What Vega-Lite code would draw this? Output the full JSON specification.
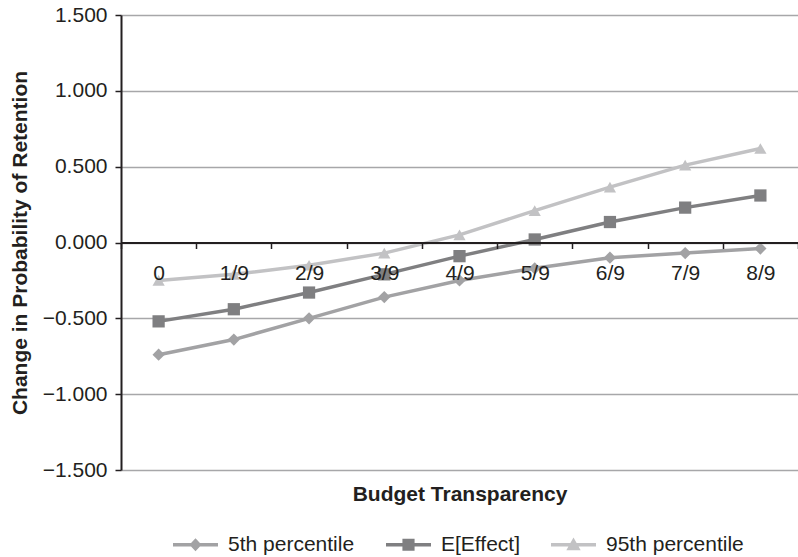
{
  "$schema": "https://vega.github.io/schema/vega-lite/v6.json",
  "width": 677,
  "height": 455,
  "autosize": "none",
  "padding": {"left": 121, "top": 15, "right": 0, "bottom": 87},
  "background": "white",
  "config": {
    "view": {"stroke": null},
    "font": "Liberation Sans",
    "axis": {"labelFont": "Liberation Sans", "titleFont": "Liberation Sans", "labelColor": "#231f20", "titleColor": "#231f20"},
    "legend": {"labelFont": "Liberation Sans"}
  },
  "data": {
    "values": [
      {"x": "0", "series": "5th percentile", "value": -0.74},
      {"x": "1/9", "series": "5th percentile", "value": -0.64},
      {"x": "2/9", "series": "5th percentile", "value": -0.50},
      {"x": "3/9", "series": "5th percentile", "value": -0.36},
      {"x": "4/9", "series": "5th percentile", "value": -0.25},
      {"x": "5/9", "series": "5th percentile", "value": -0.17},
      {"x": "6/9", "series": "5th percentile", "value": -0.10},
      {"x": "7/9", "series": "5th percentile", "value": -0.07},
      {"x": "8/9", "series": "5th percentile", "value": -0.04},
      {"x": "0", "series": "E[Effect]", "value": -0.52},
      {"x": "1/9", "series": "E[Effect]", "value": -0.44},
      {"x": "2/9", "series": "E[Effect]", "value": -0.33},
      {"x": "3/9", "series": "E[Effect]", "value": -0.21},
      {"x": "4/9", "series": "E[Effect]", "value": -0.09},
      {"x": "5/9", "series": "E[Effect]", "value": 0.02},
      {"x": "6/9", "series": "E[Effect]", "value": 0.135},
      {"x": "7/9", "series": "E[Effect]", "value": 0.23},
      {"x": "8/9", "series": "E[Effect]", "value": 0.31},
      {"x": "0", "series": "95th percentile", "value": -0.25},
      {"x": "1/9", "series": "95th percentile", "value": -0.21},
      {"x": "2/9", "series": "95th percentile", "value": -0.15},
      {"x": "3/9", "series": "95th percentile", "value": -0.07},
      {"x": "4/9", "series": "95th percentile", "value": 0.05},
      {"x": "5/9", "series": "95th percentile", "value": 0.21},
      {"x": "6/9", "series": "95th percentile", "value": 0.365},
      {"x": "7/9", "series": "95th percentile", "value": 0.51},
      {"x": "8/9", "series": "95th percentile", "value": 0.62}
    ]
  },
  "encoding": {
    "x": {
      "field": "x",
      "type": "nominal",
      "sort": ["0", "1/9", "2/9", "3/9", "4/9", "5/9", "6/9", "7/9", "8/9"],
      "scale": {"type": "band", "paddingInner": 0, "paddingOuter": 0},
      "axis": {
        "title": "Budget Transparency",
        "titleFontSize": 21,
        "titleFontWeight": "bold",
        "titlePadding": 200,
        "offset": -227.5,
        "zindex": 1,
        "labelAngle": 0,
        "labelFontSize": 21,
        "labelPadding": 14,
        "tickBand": "extent",
        "tickSize": 6,
        "tickWidth": 1.5,
        "tickColor": "#231f20",
        "domainColor": "#231f20",
        "domainWidth": 2,
        "grid": false
      }
    },
    "y": {
      "field": "value",
      "type": "quantitative",
      "scale": {"domain": [-1.5, 1.5], "nice": false, "zero": false},
      "axis": {
        "title": "Change in Probability of Retention",
        "titleFontSize": 21,
        "titleFontWeight": "bold",
        "titlePadding": 12,
        "values": [-1.5, -1, -0.5, 0, 0.5, 1, 1.5],
        "format": ".3f",
        "labelFontSize": 21,
        "labelPadding": 8,
        "tickSize": 6,
        "tickWidth": 1.5,
        "tickColor": "#231f20",
        "domainColor": "#231f20",
        "domainWidth": 2,
        "grid": true,
        "gridColor": "#a7a7a9",
        "gridWidth": 1.5
      }
    }
  },
  "layer": [
    {
      "mark": {"type": "line", "strokeWidth": 3.5},
      "encoding": {
        "color": {
          "field": "series",
          "type": "nominal",
          "scale": {"domain": ["5th percentile", "E[Effect]", "95th percentile"], "range": ["#a2a2a4", "#7f7f81", "#c2c2c4"]},
          "legend": null
        }
      }
    },
    {
      "mark": {"type": "point", "filled": true, "opacity": 1, "size": 150},
      "encoding": {
        "color": {
          "field": "series",
          "type": "nominal",
          "scale": {"domain": ["5th percentile", "E[Effect]", "95th percentile"], "range": ["#a2a2a4", "#7f7f81", "#c2c2c4"]},
          "legend": null
        },
        "shape": {
          "field": "series",
          "type": "nominal",
          "scale": {"domain": ["5th percentile", "E[Effect]", "95th percentile"], "range": ["diamond", "square", "triangle-up"]},
          "legend": null
        }
      }
    },
    {
      "transform": [{"filter": "false"}],
      "mark": {"type": "point", "filled": true, "opacity": 1},
      "encoding": {
        "fill": {
          "field": "series",
          "type": "nominal",
          "scale": {"domain": ["5th percentile", "E[Effect]", "95th percentile"], "range": ["#a2a2a4", "#7f7f81", "#c2c2c4"]},
          "legend": {
            "orient": "none", "legendX": 52, "legendY": 507, "direction": "horizontal", "title": null,
            "labelFontSize": 21, "labelColor": "#231f20", "symbolSize": 2025, "symbolStrokeWidth": 0,
            "columnPadding": 31, "labelOffset": 10
          }
        },
        "shape": {
          "field": "series",
          "type": "nominal",
          "scale": {
            "domain": ["5th percentile", "E[Effect]", "95th percentile"],
            "range": [
              "M-1,-0.08H1V0.08H-1Z M0,-0.29L0.27,0L0,0.29L-0.27,0Z",
              "M-1,-0.08H1V0.08H-1Z M-0.27,-0.27H0.27V0.27H-0.27Z",
              "M-1,-0.08H1V0.08H-1Z M0,-0.32L0.32,0.24H-0.32Z"
            ]
          },
          "legend": {
            "orient": "none", "legendX": 52, "legendY": 507, "direction": "horizontal", "title": null,
            "labelFontSize": 21, "labelColor": "#231f20", "symbolSize": 2025, "symbolStrokeWidth": 0,
            "columnPadding": 31, "labelOffset": 10
          }
        }
      }
    }
  ],
  "resolve": {"scale": {"shape": "independent", "fill": "independent"}}
}
